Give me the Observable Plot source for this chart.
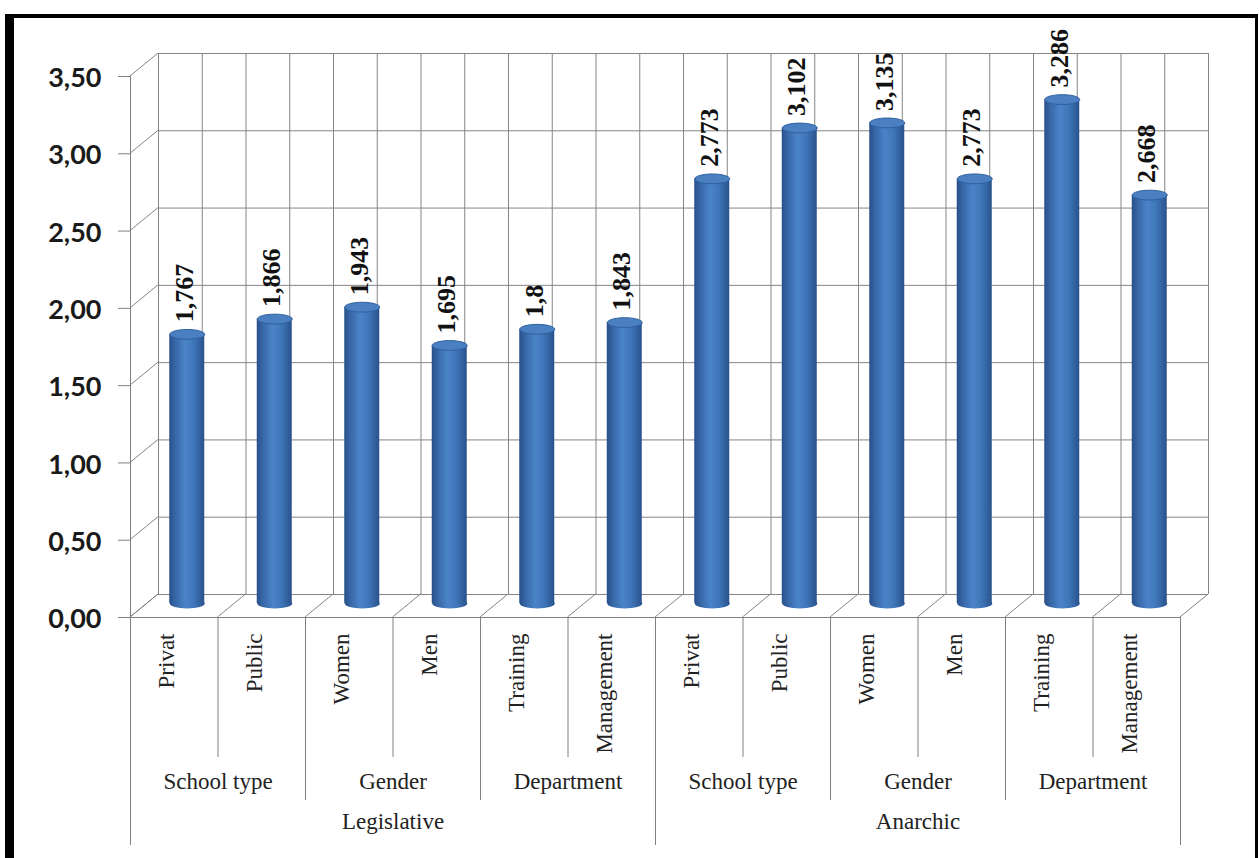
<!DOCTYPE html>
<html><head><meta charset="utf-8">
<script src="https://cdn.jsdelivr.net/npm/d3@7"></script>
<script src="https://cdn.jsdelivr.net/npm/@observablehq/plot@0.6"></script>
<style>
body{margin:0;background:#fff}
#wrap{position:relative;width:1259px;height:858px;overflow:hidden;background:#fff}
#border{position:absolute;left:5px;top:14px;width:1253px;height:900px;border-left:9px solid #000;border-top:4px solid #000;border-right:3px solid #000;box-sizing:border-box;pointer-events:none}
</style></head><body><div id="wrap"><div id="chart"></div><div id="border"></div></div>
<script>
const groups = ["Legislative", "Anarchic"];
const subgroups = ["School type", "Gender", "Department"];
const categories = ["Privat", "Public", "Women", "Men", "Training", "Management"];
const legislativeValues = [1.767, 1.866, 1.943, 1.695, 1.8, 1.843];
const anarchicValues = [2.773, 3.102, 3.135, 2.773, 3.286, 2.668];
const yTicks = [0, 0.5, 1, 1.5, 2, 2.5, 3, 3.5];

const seriesValues = [legislativeValues, anarchicValues];
const rows = [];
groups.forEach((g, gi) => categories.forEach((c, ci) => rows.push({
  group: g, sub: subgroups[Math.floor(ci / 2)], cat: c, value: seriesValues[gi][ci], i: gi * categories.length + ci
})));
const subRows = [];
groups.forEach((g, gi) => subgroups.forEach((s, si) => subRows.push({label: s, i: gi * 3 + si})));
const groupRows = groups.map((g, gi) => ({label: g, i: gi}));
const nCat = rows.length;
const halfLines = d3.range(0, nCat + 0.01, 0.5);
const boundaries = d3.range(0, nCat + 1);
const fmt = v => String(v).replace(".", ",");
const fmtTick = v => v.toFixed(2).replace(".", ",");

const DX = 28, DY = -23;       // depth of the 3D box
const BX = 13, BY = -10;       // cylinder depth position
const grid = "#858585";

const ellipse = {draw(ctx, size) {
  const rx = Math.sqrt(size / Math.PI), ry = rx * 0.28, k = 0.5523;
  ctx.moveTo(-rx, 0);
  ctx.bezierCurveTo(-rx, -ry * k, -rx * k, -ry, 0, -ry);
  ctx.bezierCurveTo(rx * k, -ry, rx, -ry * k, rx, 0);
  ctx.bezierCurveTo(rx, ry * k, rx * k, ry, 0, ry);
  ctx.bezierCurveTo(-rx * k, ry, -rx, ry * k, -rx, 0);
  ctx.closePath();
}};

const depthLines = (index, scales) => {
  const {x, y} = scales;
  const g = d3.create("svg:g").attr("stroke", grid).attr("stroke-width", 1).attr("fill", "none");
  for (const t of yTicks) g.append("line").attr("x1", x(0)).attr("y1", y(t)).attr("x2", x(0) + DX).attr("y2", y(t) + DY);
  for (const k of boundaries) g.append("line").attr("x1", x(k)).attr("y1", y(0)).attr("x2", x(k) + DX).attr("y2", y(0) + DY);
  return g.node();
};

const serif = "'Liberation Serif', 'Times New Roman', serif";

const chart = Plot.plot({
  width: 1259, height: 858,
  marginLeft: 130, marginRight: 79, marginTop: 76, marginBottom: 241,
  x: {domain: [0, nCat], axis: null},
  y: {domain: [0, 3.5], axis: null},
  style: {background: "transparent", overflow: "visible"},
  marks: [
    // back wall grid
    Plot.ruleX(halfLines, {x: d => d, dx: DX, dy: DY, stroke: grid}),
    Plot.ruleY(yTicks, {y: d => d, dx: DX, dy: DY, stroke: grid}),
    depthLines,
    // front axis & floor
    Plot.ruleX([0], {x: d => d, insetBottom: -228, stroke: "#808080"}),
    Plot.ruleY([0], {y: d => d, stroke: "#808080"}),
    Plot.ruleY(yTicks, {y: d => d, insetLeft: -12, insetRight: 1050, stroke: "#808080"}),
    // category separators
    Plot.ruleX(boundaries.filter(k => k > 0 && k % 6 === 0), {x: d => d, insetTop: 541, insetBottom: -228, stroke: "#808080"}),
    Plot.ruleX(boundaries.filter(k => k % 2 === 0 && k % 6 !== 0), {x: d => d, insetTop: 541, insetBottom: -183, stroke: "#808080"}),
    Plot.ruleX(boundaries.filter(k => k % 2 === 1), {x: d => d, insetTop: 541, insetBottom: -140, stroke: "#808080"}),
    // cylinders
    Plot.dot(rows, {x: d => d.i + 0.5, y: () => 0, dx: BX, dy: BY - 4, r: 17.5, symbol: ellipse, fill: "url(#cyl)", stroke: "none"}),
    Plot.rectY(rows, {x1: d => d.i + 0.3, x2: d => d.i + 0.7, y: "value", dx: BX, dy: BY, insetBottom: 4, fill: "url(#cyl)"}),
    Plot.dot(rows, {x: d => d.i + 0.5, y: "value", dx: BX, dy: BY, r: 17.5, symbol: ellipse, fill: "#4a7fc2", stroke: "#30609e", strokeWidth: 1}),
    // value labels
    Plot.text(rows, {x: d => d.i + 0.5, y: "value", text: d => fmt(d.value), rotate: -90, textAnchor: "start", dx: BX - 3, dy: BY - 12,
      fontFamily: serif, fontWeight: "bold", fontSize: 26, fill: "#111"}),
    // y tick labels
    Plot.text(yTicks, {y: d => d, text: fmtTick, frameAnchor: "left", textAnchor: "end", dx: -29, dy: 2,
      fontFamily: "Lato, 'Open Sans', sans-serif", fontWeight: "bold", fontSize: 27, fill: "#1a1a1a"}),
    // hierarchical category labels
    Plot.text(rows, {x: d => d.i + 0.5, frameAnchor: "bottom", text: "cat", rotate: -90, textAnchor: "end", dy: 16,
      fontFamily: serif, fontSize: 23, fill: "#222"}),
    Plot.text(subRows, {x: d => d.i * 2 + 1, frameAnchor: "bottom", text: "label", dy: 171,
      fontFamily: serif, fontSize: 23, fill: "#222"}),
    Plot.text(groupRows, {x: d => d.i * 6 + 3, frameAnchor: "bottom", text: "label", dy: 211,
      fontFamily: serif, fontSize: 23, fill: "#222"})
  ]
});

const defs = d3.select(chart).insert("defs", ":first-child");
const lg = defs.append("linearGradient").attr("id", "cyl").attr("x1", "0").attr("x2", "1").attr("y1", "0").attr("y2", "0");
[["0%", "#28508a"], ["18%", "#3868a8"], ["45%", "#4a84c8"], ["70%", "#3f76b9"], ["100%", "#29528c"]]
  .forEach(([o, c]) => lg.append("stop").attr("offset", o).attr("stop-color", c));

document.getElementById("chart").appendChild(chart);
</script>
</body></html>
